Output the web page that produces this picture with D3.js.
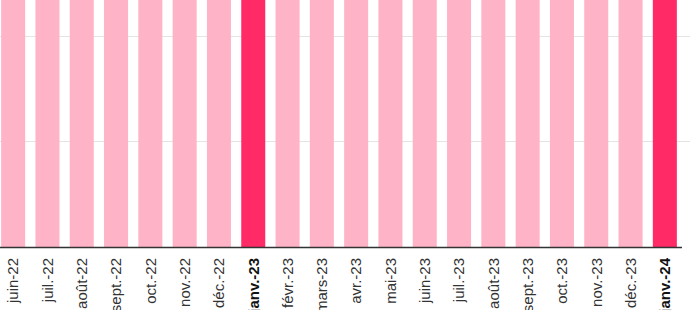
<!DOCTYPE html>
<html lang="fr">
<head>
<meta charset="UTF-8">
<script src="https://d3js.org/d3.v7.min.js"></script>
<style>
  body { margin: 0; background: #fff; }
  svg { display: block; font-family: "Liberation Sans", Arial, sans-serif; }
</style>
</head>
<body>
<div id="chart"></div>
<script>
  // mois affichés (axe x)
  const months = ['juin-22','juil.-22','août-22','sept.-22','oct.-22','nov.-22','déc.-22',
    'janv.-23','févr.-23','mars-23','avr.-23','mai-23','juin-23','juil.-23','août-23',
    'sept.-23','oct.-23','nov.-23','déc.-23','janv.-24']
  // valeurs : toutes dépassent le haut de la zone visible
  const values = [2.9, 2.8, 2.7, 2.8, 2.9, 3.0, 3.1, 3.6, 2.9, 2.8, 2.7, 2.8, 2.9, 2.8, 2.7, 2.8, 2.9, 3.0, 3.1, 3.7]
  const gridTicks = [1, 2]

  const W = 690, H = 310
  const baseY = 247

  const svg = d3.select('#chart').append('svg')
    .attr('width', W).attr('height', H)

  const x = d3.scaleBand()
    .domain(months)
    .range([-4, 682])
    .paddingInner(0.3)
    .paddingOuter(0.15)

  const y = d3.scaleLinear()
    .domain([0, 2.341])
    .range([baseY, 0])

  // lignes de grille
  svg.append('g')
    .selectAll('line')
    .data(gridTicks)
    .join('line')
    .attr('x1', 0).attr('x2', W)
    .attr('y1', d => Math.round(y(d)) + 0.5)
    .attr('y2', d => Math.round(y(d)) + 0.5)
    .attr('stroke', '#e4e4e4')

  const isJan = m => m.startsWith('janv')

  svg.append('g')
    .selectAll('rect')
    .data(months)
    .join('rect')
    .attr('x', d => x(d))
    .attr('width', x.bandwidth())
    .attr('y', (d, i) => y(values[i]))
    .attr('height', (d, i) => baseY - y(values[i]))
    .attr('fill', d => isJan(d) ? '#ff2a66' : '#ffb3c7')

  // axe x
  const axis = svg.append('g')
    .attr('transform', `translate(0,${baseY})`)
    .call(d3.axisBottom(x).tickSize(0).tickPadding(0))
  axis.select('.domain')
    .attr('d', `M0,0.5H682`)
    .attr('stroke', '#333')
    .attr('stroke-width', 1.5)
  axis.selectAll('text')
    .attr('transform', 'rotate(-90)')
    .attr('text-anchor', 'end')
    .attr('dy', '0.35em')
    .attr('x', -11)
    .attr('y', 0)
    .style('font-size', '15px')
    .style('font-family', '"Liberation Sans", Arial, sans-serif')
    .attr('fill', d => isJan(d) ? '#111' : '#333')
    .style('font-weight', d => isJan(d) ? 'bold' : 'normal')
</script>
</body>
</html>
